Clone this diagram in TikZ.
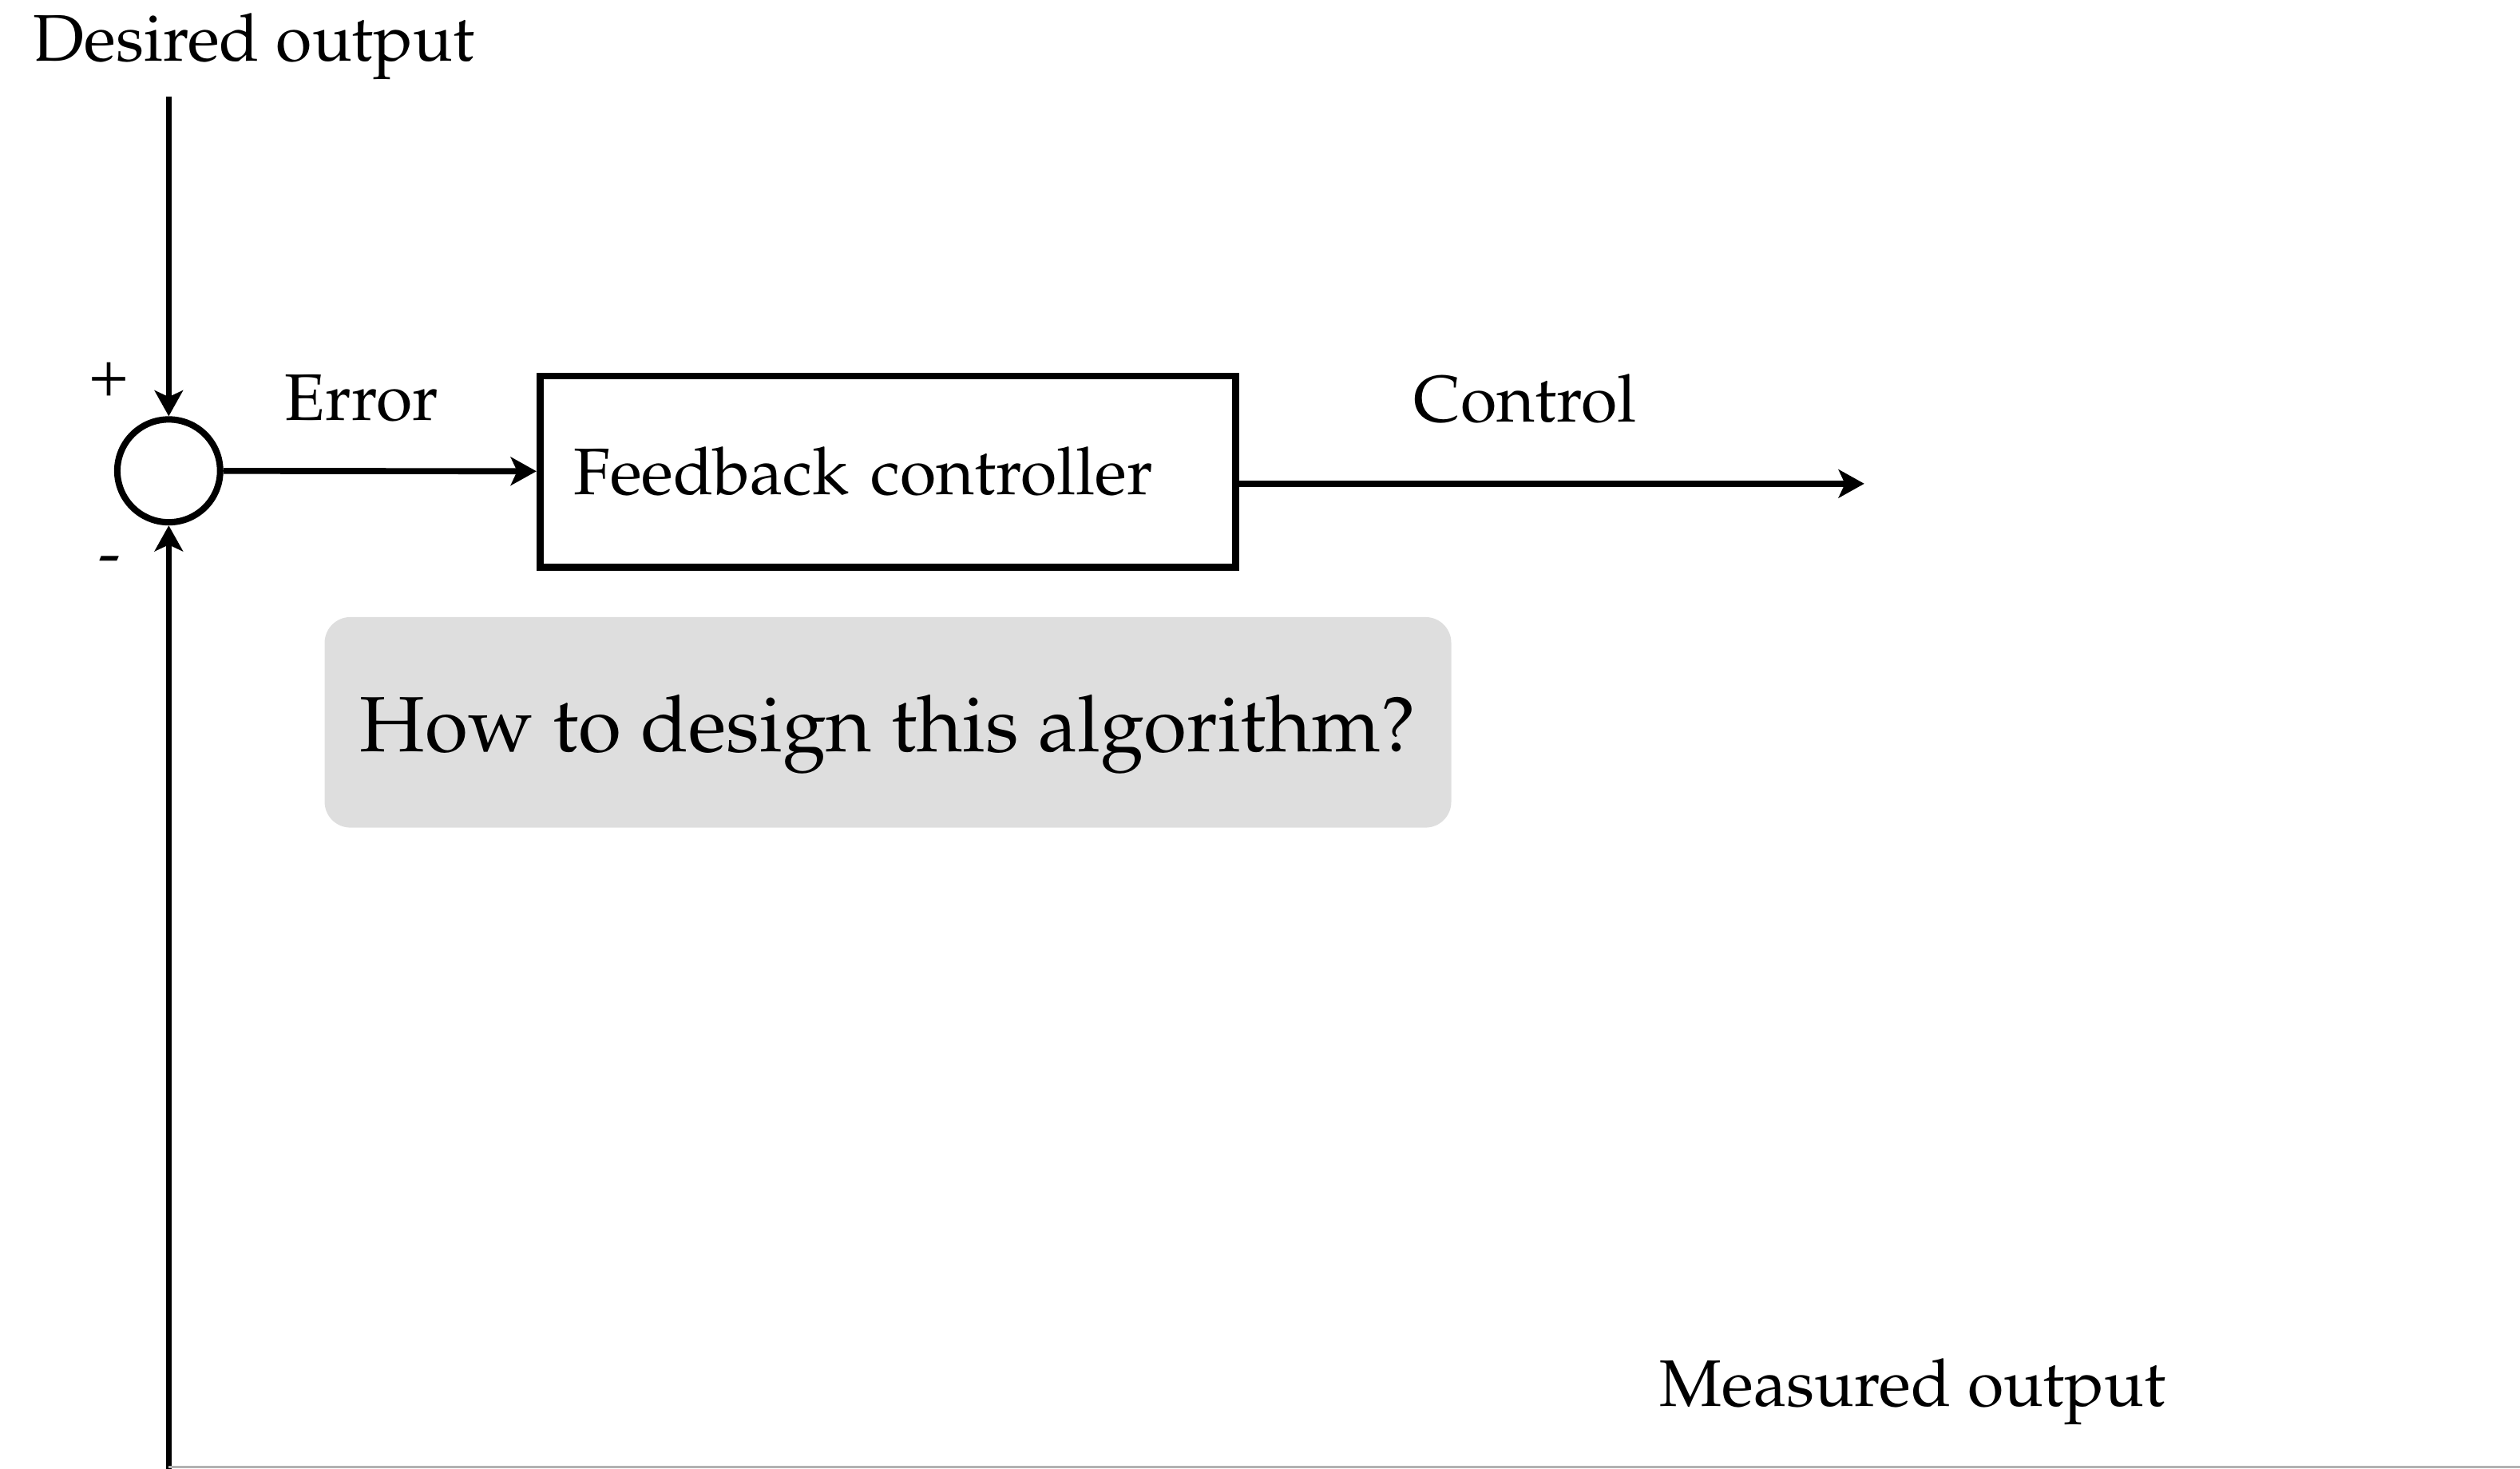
\documentclass[tikz,border=0pt]{standalone}
\usepackage[T1]{fontenc}
\usepackage{mathpazo}
\usepackage{tikz}
\usetikzlibrary{shapes,arrows,arrows.meta,positioning}

\begin{document}
\begin{tikzpicture}[
    x=0.25pt, y=-0.25pt,
    node distance=1.5cm,
    box/.style={rectangle, draw, line width=1.1pt, minimum width=108.25pt, minimum height=29.75pt, text width=97.75pt, inner xsep=5.25pt, align=left, font=\fontsize{10.25}{12}\selectfont},
    sum/.style={circle, draw, line width=1pt, minimum size=16pt, inner sep=0pt},
    note/.style={rectangle, rounded corners=4pt, fill=black!13, minimum width=175.25pt, minimum height=32.75pt, text height=12.2pt, text depth=3pt, font=\fontsize{12.2}{15}\selectfont},
    sig/.style={font=\fontsize{10.25}{12}\selectfont},
    arrow/.style={-{Stealth[length=4pt, width=4.4pt, inset=1pt]}, line width=0.95pt}
]
    \useasboundingbox (0,0) rectangle (1568,914);

    \node[sum] (sum) at (105,293) {};
    \node[box] (ctrl) at (552.5,293.5) {Feedback controller};
    \node[note] (question) at (552.5,449.5) {How to design this algorithm?};

    \node[sig, anchor=base west, inner sep=0pt] (desired) at (20,38) {Desired output};
    \node[sig, anchor=base west, inner sep=0pt] (measured) at (1032,875) {Measured output};
    \node[sig] (error) at (225,248) {Error};
    \node[sig] (control) at (949,248) {Control};
    \node[sig] (plus) at (68,236) {+};
    \node[sig] (minus) at (68,352) {-};

    \coordinate (ref) at (105,60);
    \coordinate (fb) at (105,914);
    \coordinate (out) at (1160,301);
    \coordinate (edge) at (1568,913);

    \draw[arrow] (ref) -- (sum);
    \draw[arrow] (fb) -- (sum);
    \draw[arrow] (sum) -- (ctrl);
    \draw[arrow] (ctrl.east |- out) -- (out);
    \draw[gray!60, line width=0.3pt] (fb |- edge) -- (edge);
\end{tikzpicture}
\end{document}
